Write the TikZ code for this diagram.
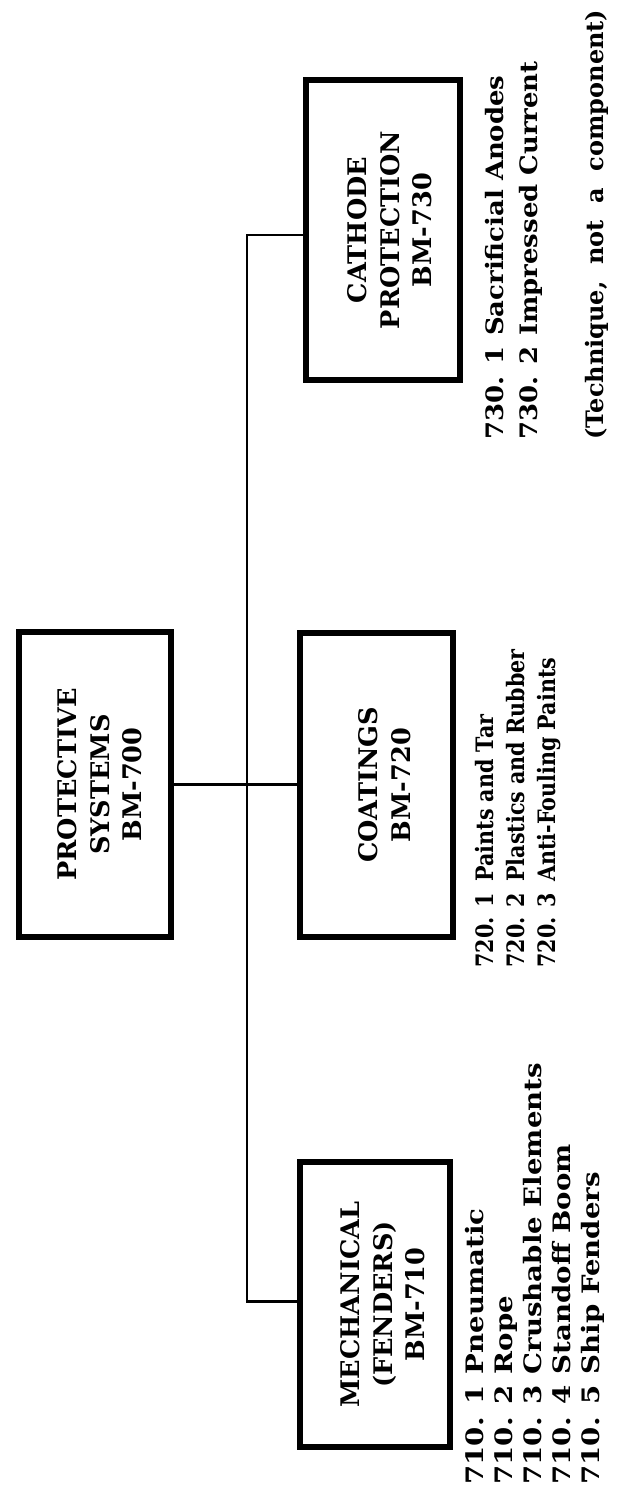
\documentclass[tikz,border=0pt]{standalone}
\usepackage{fontspec}
\setmainfont{DejaVu Serif}
\newcommand{\listrow}[4]{\scalebox{#1}[1]{\makebox[#2][l]{#3}#4}}
\begin{document}
\begin{tikzpicture}[x=0.5pt,y=-0.5pt,
  box/.style={draw, line width=3pt, inner sep=0pt},
  boxtext/.style={rotate=90, inner sep=0pt, align=center,
    font=\bfseries\fontsize{12.8}{16.3}\selectfont},
  wire/.style={line width=1.4pt},
  item/.style={rotate=90, anchor=base west, inner sep=0pt,
    font=\bfseries\fontsize{12}{14}\selectfont}]
\useasboundingbox (0,0) rectangle (625,1488);
% boxes
\node[box, minimum width=76pt, minimum height=152.5pt] (P) at (95,784.5) {};
\node[box, minimum width=76.5pt, minimum height=152pt] (C) at (376.5,785) {};
\node[box, minimum width=77pt, minimum height=150pt] (K) at (383,230) {};
\node[box, minimum width=75pt, minimum height=142.5pt] (M) at (375,1304.5) {};
% box texts
\node[boxtext] (Pt) at ([xshift=2.5pt]P.center) {PROTECTIVE\\SYSTEMS\\BM-700};
\node[boxtext] (Ct) at ([xshift=4pt]C.center) {COATINGS\\BM-720};
\node[boxtext] (Kt) at ([xshift=3.5pt]K.center) {CATHODE\\PROTECTION\\BM-730};
\node[boxtext] (Mt) at ([xshift=4pt]M.center) {MECHANICAL\\(FENDERS)\\BM-710};
% connectors
\coordinate (vx) at (247,0);
\draw[wire] (P.east) -- (P.east -| C.west);
\draw[wire] ([yshift=-2.5pt]K.west) -- ([yshift=-2.5pt]K.west -| vx) -- ([yshift=1.5pt]M.west -| vx) -- ([yshift=1.5pt]M.west);
% lists
\node[item] (m1) at (483,1485) {\listrow{1.15}{48pt}{710. 1}{Pneumatic}};
\node[item] (m2) at (512,1485) {\listrow{1.15}{48pt}{710. 2}{Rope}};
\node[item] (m3) at (541,1485) {\listrow{1.15}{48pt}{710. 3}{Crushable Elements}};
\node[item] (m4) at (570,1485) {\listrow{1.15}{48pt}{710. 4}{Standoff Boom}};
\node[item] (m5) at (599,1485) {\listrow{1.15}{48pt}{710. 5}{Ship Fenders}};
\node[item] (c1) at (493,968) {\listrow{0.86}{50pt}{720. 1}{Paints and Tar}};
\node[item] (c2) at (524,968) {\listrow{0.86}{50pt}{720. 2}{Plastics and Rubber}};
\node[item] (c3) at (555,968) {\listrow{0.86}{50pt}{720. 3}{Anti-Fouling Paints}};
\node[item] (k1) at (503,440) {\listrow{1.08}{48pt}{730. 1}{Sacrificial Anodes}};
\node[item] (k2) at (537,440) {\listrow{1.08}{48pt}{730. 2}{Impressed Current}};
\node[item] (k3) at (603,440) {(Technique,\ \ not\ \ a\ \ component)};
\end{tikzpicture}
\end{document}
